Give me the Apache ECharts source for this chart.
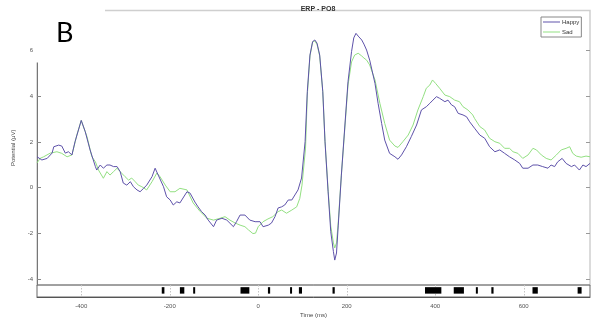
<!DOCTYPE html>
<html>
<head>
<meta charset="utf-8">
<script src="https://cdn.jsdelivr.net/npm/echarts@6/dist/echarts.min.js"></script>
<style>html,body{margin:0;padding:0;background:#fff}#c{width:597px;height:327px}</style>
</head>
<body>
<div id="c"></div>
<script>
// ---- data ----
const happyTime = [-500,-489,-477,-466,-462,-451,-444,-436,-429,-421,-414,-400,-391,-380,-368,-365,-357,-350,-342,-335,-327,-319,-312,-305,-297,-289,-282,-274,-267,-259,-252,-240,-233,-226,-214,-207,-199,-192,-184,-177,-161,-154,-143,-136,-128,-120,-113,-101,-94,-82,-71,-56,-49,-41,-30,-19,-7,4,11,23,30,38,45,53,60,68,76,83,90,98,106,111,117,123,128,133,139,146,151,158,164,170,173,177,181,188,196,203,211,216,221,226,234,239,245,252,264,271,279,286,297,309,316,324,335,346,358,369,380,388,395,403,410,422,429,437,444,452,463,471,478,489,501,512,523,535,546,557,568,580,591,598,610,621,632,643,655,662,670,677,687,696,708,715,726,734,741,750];
const happyValue = [1.35,1.21,1.28,1.51,1.79,1.86,1.82,1.51,1.57,1.43,2.01,2.94,2.45,1.65,0.92,0.77,0.99,0.85,0.99,0.99,0.92,0.92,0.70,0.20,0.11,0.26,0.04,-0.10,-0.18,-0.03,0.11,0.48,0.85,0.55,0.04,-0.40,-0.54,-0.76,-0.62,-0.67,-0.18,-0.24,-0.63,-0.84,-1.05,-1.20,-1.42,-1.71,-1.42,-1.34,-1.42,-1.71,-1.49,-1.20,-1.20,-1.42,-1.49,-1.49,-1.71,-1.64,-1.55,-1.27,-0.89,-0.84,-0.76,-0.54,-0.54,-0.32,-0.10,0.42,2.01,4.20,5.80,6.39,6.46,6.32,5.80,4.20,2.01,-0.18,-1.93,-2.80,-3.17,-2.86,-1.64,0.55,2.74,4.63,5.95,6.55,6.75,6.63,6.46,6.28,6.02,5.58,4.56,3.69,2.81,2.08,1.50,1.35,1.24,1.43,1.79,2.23,2.74,3.40,3.54,3.69,3.83,3.98,3.91,3.76,3.83,3.62,3.54,3.25,3.18,3.10,2.88,2.60,2.30,2.16,1.79,1.57,1.65,1.50,1.35,1.21,1.06,0.85,0.85,0.99,0.99,0.92,0.85,0.99,0.92,1.13,1.28,1.06,0.92,0.99,0.77,0.99,0.92,1.06];

const sadTime = [-500,-493,-485,-470,-455,-444,-432,-421,-410,-400,-387,-376,-368,-361,-350,-342,-335,-327,-319,-312,-301,-293,-286,-278,-271,-263,-252,-240,-229,-222,-210,-199,-188,-177,-161,-147,-131,-116,-101,-86,-75,-64,-52,-41,-30,-22,-12,-6,0,11,22,33,45,53,64,76,87,94,99,107,111,117,123,128,133,139,146,151,158,164,170,173,177,181,188,196,203,211,218,226,234,239,245,252,264,275,286,297,309,316,327,339,350,361,373,380,388,394,401,410,422,433,444,455,463,474,485,489,501,512,523,535,546,557,568,576,587,598,610,621,629,640,651,662,674,685,696,704,711,719,730,741,750];
const sadValue = [1.08,1.28,1.35,1.51,1.57,1.50,1.35,1.43,2.30,2.94,2.23,1.35,1.13,0.77,0.41,0.70,0.55,0.70,0.85,0.70,0.48,0.33,0.42,0.26,0.11,0.04,-0.10,0.26,0.64,0.48,0.11,-0.18,-0.18,-0.03,-0.10,-0.67,-1.05,-1.34,-1.42,-1.34,-1.27,-1.42,-1.55,-1.64,-1.71,-1.85,-2.01,-1.99,-1.71,-1.49,-1.37,-1.27,-1.05,-0.98,-1.12,-0.98,-0.84,-0.47,0.11,1.73,4.05,5.76,6.37,6.42,6.26,5.76,4.18,2.04,-0.10,-1.68,-2.42,-2.64,-2.42,-1.50,0.55,2.65,4.49,5.50,5.80,5.88,5.76,5.67,5.58,5.37,4.71,3.69,2.81,2.08,1.82,1.76,2.01,2.30,2.74,3.40,3.98,4.35,4.49,4.71,4.56,4.35,4.05,3.98,3.83,3.76,3.54,3.40,3.18,3.03,2.67,2.52,2.16,2.01,1.94,1.72,1.72,1.57,1.50,1.28,1.43,1.72,1.65,1.43,1.28,1.21,1.43,1.65,1.72,1.79,1.50,1.38,1.33,1.38,1.35];

// significance strip (ms intervals)
const sigStart = [-218,-177,-147,-40,22,72,92,168,377,442,492,527,620,722];
const sigEnd   = [-212,-167,-143,-20,27,76,99,173,414,465,496,532,632,731];

const timeTicks = [-400,-200,0,200,400,600];
const potentialTicks = [-4,-2,0,2,4,6];
const seriesNames = ['Happy','Sad'];

// ---- chart ----
const chart = echarts.init(document.getElementById('c'), null, {renderer:'canvas'});
const FONT = '"Liberation Sans", Arial, sans-serif';
const zip = (a,b) => a.map((t,i)=>[t,b[i]]);

const option = {
  animation: false,
  backgroundColor: '#fff',
  title: {
    text: 'ERP - PO8', left: 313, top: 1, textAlign: 'center',
    textStyle: {fontSize: 7, fontWeight: 'bold', color: '#333', fontFamily: FONT}
  },
  legend: {
    data: seriesNames, orient: 'vertical', left: 541, top: 17,
    icon: 'rect', itemWidth: 17, itemHeight: 1, itemGap: 4,
    padding: [2, 2, 2, 2], borderColor: '#888', borderWidth: 1,
    textStyle: {fontSize: 6, color: '#333', fontFamily: FONT, padding: [0,0,0,-3]}
  },
  grid: [
    {left: 37, right: 7, top: 10.5, bottom: 42, show: true, borderColor: '#cfcfcf', borderWidth: 1.5, containLabel: false},
    {left: 37, right: 7, top: 285, height: 12, show: true, borderColor: '#666', borderWidth: 1, containLabel: false}
  ],
  xAxis: [
    {gridIndex: 0, type: 'value', min: -500, max: 750,
     axisLine: {show: false}, axisTick: {show: false}, axisLabel: {show: false}, splitLine: {show: false}},
    {gridIndex: 1, type: 'value', min: -500, max: 750,
     name: 'Time (ms)', nameLocation: 'middle', nameGap: 15,
     nameTextStyle: {fontSize: 6, color: '#444', fontFamily: FONT},
     axisLine: {show: true, onZero: false, lineStyle: {color: '#555'}}, axisTick: {show: false},
     axisLabel: {customValues: timeTicks, fontSize: 6, color: '#555', margin: 6, fontFamily: FONT},
     splitLine: {show: false}}
  ],
  yAxis: [
    {gridIndex: 0, type: 'value', min: -4.26, max: 7.75,
     name: 'Potential (μV)', nameLocation: 'middle', nameGap: 13,
     nameTextStyle: {fontSize: 6, color: '#444', fontFamily: FONT},
     axisLine: {show: true, onZero: false, lineStyle: {color: '#777', width: 1}},
     axisTick: {show: true, inside: true, length: 4, customValues: potentialTicks, lineStyle: {color: '#888'}},
     axisLabel: {customValues: potentialTicks, fontSize: 6, color: '#555', margin: 4, fontFamily: FONT},
     splitLine: {show: false}},
    {gridIndex: 0, type: 'value', min: -4.26, max: 7.75, position: 'right',
     axisLine: {show: false, onZero: false},
     axisTick: {show: true, inside: true, length: 4, customValues: potentialTicks, lineStyle: {color: '#999'}},
     axisLabel: {show: false}, splitLine: {show: false}},
    {gridIndex: 1, type: 'value', min: 0, max: 1, show: false, axisLine: {onZero: false}}
  ],
  series: [
    {name: 'Happy', type: 'line', xAxisIndex: 0, yAxisIndex: 0, data: zip(happyTime, happyValue),
     showSymbol: false, smooth: false, lineStyle: {color: '#5e52aa', width: 1}, itemStyle: {color: '#5e52aa'}, z: 3},
    {name: 'Sad', type: 'line', xAxisIndex: 0, yAxisIndex: 0, data: zip(sadTime, sadValue),
     showSymbol: false, smooth: false, lineStyle: {color: '#93e082', width: 1}, itemStyle: {color: '#93e082'}, z: 2},
    {name: 'stripGrid', type: 'custom', xAxisIndex: 1, yAxisIndex: 2,
     data: timeTicks.map(v => [v]),
     renderItem: function(params, api){
       const a = api.coord([api.value(0), 1]);
       const b = api.coord([api.value(0), 0]);
       return {type: 'line', shape: {x1: Math.round(a[0])+0.5, y1: a[1], x2: Math.round(a[0])+0.5, y2: b[1]},
               style: {stroke: '#c4c4c4', lineWidth: 1, lineDash: [1.5, 1.5]}};
     }, silent: true, z: 1},
    {name: 'sig', type: 'custom', xAxisIndex: 1, yAxisIndex: 2,
     data: sigStart.map((s,i)=>[s, sigEnd[i]]),
     renderItem: function(params, api){
       const p0 = api.coord([api.value(0), 0.82]);
       const p1 = api.coord([api.value(1), 0.28]);
       const w = Math.max(p1[0]-p0[0], 2);
       return {type: 'rect', shape: {x: p0[0], y: p0[1], width: w, height: p1[1]-p0[1]}, style: {fill: '#000'}};
     }, silent: true, z: 4}
  ],
  graphic: [
    {type: 'rect', shape: {x: 36, y: 0, width: 69, height: 62.5}, style: {fill: '#fff'}, z: 100},
    {type: 'text', x: 56, y: 20, style: {text: 'B', fontSize: 27, fontFamily: 'Lato, "Open Sans", sans-serif', fill: '#000'}, z: 101}
  ]
};
chart.setOption(option);
</script>
</body>
</html>
